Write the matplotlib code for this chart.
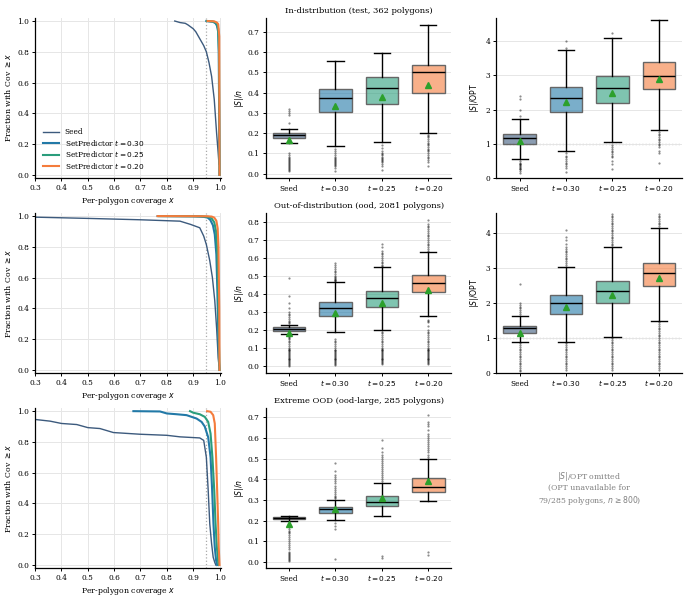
import matplotlib
matplotlib.use("Agg")
import matplotlib.pyplot as plt

plt.rcParams['font.family'] = ['DejaVu Serif']

# ---------------- data ----------------
CATS = ["Seed", "$t = 0.30$", "$t = 0.25$", "$t = 0.20$"]
LEGEND = ["Seed", "SetPredictor $t = 0.30$", "SetPredictor $t = 0.25$", "SetPredictor $t = 0.20$"]
COLORS = ["#3c5a7d", "#2279a7", "#2a9d7c", "#f47c3c"]
TITLES = ["In-distribution (test, 362 polygons)",
          "Out-of-distribution (ood, 2081 polygons)",
          "Extreme OOD (ood-large, 285 polygons)"]

# survival curves: fraction of polygons with coverage >= x
ID_SEED_X = [0.83, 0.85, 0.87, 0.88, 0.90, 0.91, 0.92, 0.93, 0.94, 0.95, 0.96, 0.97, 0.98, 0.989, 0.995, 0.998]
ID_SEED_Y = [1.0, 0.99, 0.985, 0.975, 0.95, 0.93, 0.90, 0.87, 0.84, 0.80, 0.73, 0.64, 0.49, 0.27, 0.14, 0.07]
ID_T30_X = [0.950, 0.975, 0.985, 0.990, 0.995, 0.997, 0.999, 1.0]
ID_T30_Y = [1.0, 0.995, 0.985, 0.97, 0.93, 0.80, 0.30, 0.0]
ID_T25_X = [0.952, 0.975, 0.985, 0.990, 0.995, 0.998, 1.0]
ID_T25_Y = [1.0, 0.997, 0.99, 0.98, 0.95, 0.80, 0.0]
ID_T20_X = [0.955, 0.980, 0.990, 0.995, 0.999, 1.0]
ID_T20_Y = [1.0, 0.998, 0.99, 0.98, 0.90, 0.0]

OOD_SEED_X = [0.25, 0.30, 0.50, 0.70, 0.85, 0.89, 0.925, 0.94, 0.95, 0.963, 0.973, 0.982, 0.989, 0.995, 0.998]
OOD_SEED_Y = [0.994, 0.993, 0.985, 0.976, 0.967, 0.946, 0.924, 0.87, 0.815, 0.71, 0.60, 0.45, 0.27, 0.08, 0.03]
OOD_T30_X = [0.765, 0.90, 0.94, 0.955, 0.965, 0.975, 0.982, 0.988, 0.992, 0.995, 0.998, 1.0]
OOD_T30_Y = [1.0, 0.998, 0.995, 0.99, 0.975, 0.94, 0.88, 0.75, 0.50, 0.25, 0.05, 0.0]
OOD_T25_X = [0.77, 0.93, 0.96, 0.97, 0.98, 0.987, 0.992, 0.995, 0.998, 1.0]
OOD_T25_Y = [1.0, 0.999, 0.995, 0.985, 0.96, 0.90, 0.75, 0.50, 0.15, 0.0]
OOD_T20_X = [0.765, 0.95, 0.97, 0.98, 0.988, 0.993, 0.996, 0.999, 1.0]
OOD_T20_Y = [1.0, 0.999, 0.997, 0.99, 0.97, 0.92, 0.80, 0.40, 0.0]

OODL_SEED_X = [0.25, 0.30, 0.357, 0.40, 0.458, 0.50, 0.546, 0.597, 0.698, 0.80, 0.85, 0.925, 0.94, 0.95, 0.957, 0.963, 0.97, 0.976, 0.982, 0.986]
OODL_SEED_Y = [0.95, 0.946, 0.935, 0.92, 0.913, 0.893, 0.887, 0.861, 0.85, 0.843, 0.833, 0.826, 0.81, 0.70, 0.485, 0.267, 0.137, 0.05, 0.017, 0.0]
OODL_T30_X = [0.673, 0.774, 0.80, 0.837, 0.875, 0.913, 0.932, 0.944, 0.957, 0.966, 0.972, 0.977, 0.982, 0.987, 0.991]
OODL_T30_Y = [1.0, 0.998, 0.985, 0.98, 0.974, 0.952, 0.93, 0.90, 0.83, 0.70, 0.485, 0.267, 0.115, 0.03, 0.0]
OODL_T25_X = [0.888, 0.90, 0.925, 0.944, 0.957, 0.966, 0.973, 0.98, 0.985, 0.99, 0.995, 0.997]
OODL_T25_Y = [1.0, 0.99, 0.98, 0.963, 0.93, 0.854, 0.70, 0.485, 0.267, 0.115, 0.017, 0.0]
OODL_T20_X = [0.953, 0.966, 0.976, 0.982, 0.987, 0.991, 0.995, 0.997, 1.0]
OODL_T20_Y = [1.0, 0.996, 0.974, 0.92, 0.70, 0.485, 0.267, 0.115, 0.0]

# box statistics (Seed, t=0.30, t=0.25, t=0.20)
ID_SN_Q1 = [0.178, 0.305, 0.345, 0.400]
ID_SN_MED = [0.193, 0.372, 0.425, 0.500]
ID_SN_Q3 = [0.203, 0.418, 0.475, 0.535]
ID_SN_LO = [0.151, 0.138, 0.155, 0.200]
ID_SN_HI = [0.220, 0.557, 0.595, 0.733]
ID_SN_MEAN = [0.165, 0.335, 0.380, 0.437]
ID_SN_FLIERS = [
    [0.32, 0.31, 0.30, 0.29, 0.25, 0.10, 0.09, 0.085, 0.08, 0.075, 0.07, 0.065, 0.06, 0.055, 0.05, 0.045, 0.04, 0.035, 0.03, 0.025, 0.02, 0.015],
    [0.12, 0.11, 0.10, 0.09, 0.085, 0.08, 0.075, 0.07, 0.065, 0.06, 0.055, 0.05, 0.045, 0.04, 0.03, 0.015],
    [0.14, 0.125, 0.11, 0.10, 0.095, 0.09, 0.085, 0.08, 0.075, 0.07, 0.065, 0.06, 0.05, 0.04, 0.02],
    [0.19, 0.185, 0.18, 0.17, 0.16, 0.15, 0.145, 0.14, 0.13, 0.12, 0.115, 0.11, 0.10, 0.09, 0.085, 0.08, 0.07, 0.06, 0.04],
]

ID_SO_Q1 = [0.99, 1.92, 2.20, 2.59]
ID_SO_MED = [1.18, 2.33, 2.62, 2.99]
ID_SO_Q3 = [1.30, 2.66, 2.99, 3.40]
ID_SO_LO = [0.56, 0.79, 1.06, 1.40]
ID_SO_HI = [1.71, 3.75, 4.08, 4.63]
ID_SO_MEAN = [1.09, 2.21, 2.49, 2.89]
ID_SO_FLIERS = [
    [2.4, 2.3, 2.0, 1.8, 0.5, 0.45, 0.42, 0.4, 0.37, 0.35, 0.32, 0.3, 0.27, 0.25, 0.2, 0.15],
    [4.0, 3.8, 0.72, 0.65, 0.6, 0.55, 0.5, 0.45, 0.4, 0.35, 0.3, 0.17],
    [4.25, 0.95, 0.9, 0.85, 0.8, 0.75, 0.7, 0.65, 0.6, 0.5, 0.4, 0.25],
    [1.35, 1.3, 1.25, 1.2, 1.15, 1.1, 1.05, 1.0, 0.95, 0.9, 0.8, 0.72, 0.45],
]

OOD_SN_Q1 = [0.196, 0.277, 0.329, 0.409]
OOD_SN_MED = [0.205, 0.320, 0.379, 0.460]
OOD_SN_Q3 = [0.215, 0.355, 0.417, 0.503]
OOD_SN_LO = [0.178, 0.189, 0.200, 0.277]
OOD_SN_HI = [0.228, 0.465, 0.549, 0.636]
OOD_SN_MEAN = [0.181, 0.293, 0.348, 0.424]
OOD_SN_FLIERS = [
    [0.24, 0.245, 0.25, 0.26, 0.27, 0.28, 0.29, 0.30, 0.32, 0.35, 0.39, 0.49,
     0.17, 0.165, 0.16, 0.155, 0.15, 0.14, 0.13, 0.12, 0.11, 0.10, 0.095, 0.09, 0.085, 0.08, 0.075, 0.07,
     0.065, 0.06, 0.055, 0.05, 0.045, 0.04, 0.035, 0.03, 0.025, 0.02, 0.015, 0.01, 0.005, 0.0],
    [0.47, 0.475, 0.48, 0.485, 0.49, 0.495, 0.50, 0.51, 0.52, 0.53, 0.54, 0.55, 0.56, 0.57,
     0.15, 0.14, 0.13, 0.12, 0.11, 0.10, 0.09, 0.085, 0.08, 0.075, 0.07, 0.065, 0.06, 0.055, 0.05, 0.045,
     0.04, 0.035, 0.03, 0.025, 0.02, 0.015, 0.01, 0.005],
    [0.555, 0.56, 0.57, 0.58, 0.59, 0.60, 0.61, 0.62, 0.63, 0.64, 0.66, 0.68,
     0.19, 0.18, 0.17, 0.16, 0.15, 0.14, 0.13, 0.12, 0.11, 0.10, 0.095, 0.09, 0.085, 0.08, 0.075, 0.07,
     0.065, 0.06, 0.055, 0.05, 0.045, 0.04, 0.035, 0.03, 0.025, 0.02, 0.015, 0.01],
    [0.64, 0.65, 0.66, 0.67, 0.68, 0.69, 0.70, 0.71, 0.72, 0.73, 0.74, 0.75, 0.76, 0.77, 0.78, 0.79, 0.81,
     0.255, 0.25, 0.245, 0.22, 0.20, 0.19, 0.18, 0.17, 0.16, 0.15, 0.14, 0.13, 0.12, 0.11, 0.10, 0.095,
     0.09, 0.085, 0.08, 0.075, 0.07, 0.065, 0.06, 0.055, 0.05, 0.045, 0.04, 0.035, 0.03, 0.025, 0.02, 0.015, 0.01],
]

OOD_SO_Q1 = [1.15, 1.70, 1.99, 2.48]
OOD_SO_MED = [1.28, 1.99, 2.34, 2.85]
OOD_SO_Q3 = [1.34, 2.235, 2.64, 3.16]
OOD_SO_LO = [0.88, 0.90, 1.04, 1.49]
OOD_SO_HI = [1.62, 3.03, 3.61, 4.16]
OOD_SO_MEAN = [1.14, 1.90, 2.245, 2.73]
OOD_SO_FLIERS = [
    [1.7, 1.75, 1.8, 1.85, 1.9, 1.95, 2.0, 2.55,
     0.85, 0.8, 0.75, 0.7, 0.65, 0.6, 0.55, 0.5, 0.45, 0.4, 0.35, 0.3, 0.25, 0.2, 0.15, 0.1, 0.05],
    [3.1, 3.15, 3.2, 3.25, 3.3, 3.35, 3.4, 3.45, 3.5, 3.55, 3.6, 3.7, 3.8, 3.9, 4.1,
     0.85, 0.8, 0.75, 0.7, 0.65, 0.6, 0.55, 0.5, 0.45, 0.4, 0.35, 0.3, 0.25, 0.2, 0.15, 0.1],
    [3.65, 3.7, 3.75, 3.8, 3.85, 3.9, 3.95, 4.0, 4.05, 4.1, 4.15, 4.2, 4.25, 4.3, 4.35, 4.4, 4.45, 4.5, 4.55,
     1.0, 0.95, 0.9, 0.85, 0.8, 0.75, 0.7, 0.65, 0.6, 0.55, 0.5, 0.45, 0.4, 0.35, 0.3, 0.25, 0.2, 0.15, 0.1],
    [4.2, 4.25, 4.3, 4.35, 4.4, 4.45, 4.5, 4.55,
     1.45, 1.4, 1.35, 1.3, 1.25, 1.2, 1.15, 1.1, 1.05, 1.0, 0.95, 0.9, 0.85, 0.8, 0.75, 0.7, 0.65, 0.6,
     0.55, 0.5, 0.45, 0.4, 0.35, 0.3, 0.25, 0.2, 0.15, 0.1],
]

OODL_SN_Q1 = [0.206, 0.237, 0.272, 0.339]
OODL_SN_MED = [0.211, 0.254, 0.288, 0.365]
OODL_SN_Q3 = [0.216, 0.265, 0.317, 0.406]
OODL_SN_LO = [0.198, 0.203, 0.221, 0.293]
OODL_SN_HI = [0.221, 0.301, 0.381, 0.500]
OODL_SN_MEAN = [0.183, 0.255, 0.309, 0.393]
OODL_SN_FLIERS = [
    [0.185, 0.17, 0.16, 0.15, 0.145, 0.14, 0.13, 0.12, 0.11, 0.10, 0.09, 0.08, 0.07, 0.06, 0.05, 0.045,
     0.04, 0.035, 0.03, 0.025, 0.02, 0.015, 0.01, 0.005],
    [0.31, 0.315, 0.32, 0.33, 0.34, 0.35, 0.36, 0.37, 0.38, 0.39, 0.40, 0.41, 0.42, 0.44, 0.48, 0.19, 0.175, 0.16, 0.013],
    [0.39, 0.40, 0.41, 0.42, 0.43, 0.44, 0.45, 0.46, 0.47, 0.48, 0.49, 0.50, 0.51, 0.52, 0.53, 0.55, 0.59, 0.03, 0.02],
    [0.51, 0.52, 0.53, 0.54, 0.55, 0.56, 0.57, 0.58, 0.59, 0.60, 0.61, 0.62, 0.64, 0.66, 0.67, 0.68, 0.71, 0.05, 0.035],
]

SO_YLIM_TOP = [4.68, 4.575]
OMITTED_TEXT = "$|S|$/OPT omitted\n(OPT unavailable for\n79/285 polygons, $n \\geq 800$)"
COV_THRESHOLD = 0.95

# ---------------- plotting ----------------
FS_TICK = 5.3
FS_LABEL = 5.6
FS_TITLE = 6.0

fig, axes = plt.subplots(3, 3, figsize=(6.89, 5.98), dpi=100)
fig.subplots_adjust(left=0.051, right=0.99, bottom=0.050, top=0.970, wspace=0.242, hspace=0.219)

curves = [
    [(ID_SEED_X, ID_SEED_Y), (ID_T30_X, ID_T30_Y), (ID_T25_X, ID_T25_Y), (ID_T20_X, ID_T20_Y)],
    [(OOD_SEED_X, OOD_SEED_Y), (OOD_T30_X, OOD_T30_Y), (OOD_T25_X, OOD_T25_Y), (OOD_T20_X, OOD_T20_Y)],
    [(OODL_SEED_X, OODL_SEED_Y), (OODL_T30_X, OODL_T30_Y), (OODL_T25_X, OODL_T25_Y), (OODL_T20_X, OODL_T20_Y)],
]
sn_stats = [
    (ID_SN_Q1, ID_SN_MED, ID_SN_Q3, ID_SN_LO, ID_SN_HI, ID_SN_MEAN, ID_SN_FLIERS),
    (OOD_SN_Q1, OOD_SN_MED, OOD_SN_Q3, OOD_SN_LO, OOD_SN_HI, OOD_SN_MEAN, OOD_SN_FLIERS),
    (OODL_SN_Q1, OODL_SN_MED, OODL_SN_Q3, OODL_SN_LO, OODL_SN_HI, OODL_SN_MEAN, OODL_SN_FLIERS),
]
so_stats = [
    (ID_SO_Q1, ID_SO_MED, ID_SO_Q3, ID_SO_LO, ID_SO_HI, ID_SO_MEAN, ID_SO_FLIERS),
    (OOD_SO_Q1, OOD_SO_MED, OOD_SO_Q3, OOD_SO_LO, OOD_SO_HI, OOD_SO_MEAN, OOD_SO_FLIERS),
]


def style_ax(ax, xgrid):
    for s in ["top", "right"]:
        ax.spines[s].set_visible(False)
    for s in ["left", "bottom"]:
        ax.spines[s].set_linewidth(0.9)
    ax.tick_params(labelsize=FS_TICK, length=2.5, width=0.7, pad=2)
    ax.set_axisbelow(True)
    ax.grid(axis="y", color="#e6e6e6", lw=0.7)
    if xgrid:
        ax.grid(axis="x", color="#e6e6e6", lw=0.7)


def draw_box(ax, stats):
    q1, med, q3, lo, hi, mean, fliers = stats
    bs = []
    for i in range(len(CATS)):
        bs.append(dict(q1=q1[i], med=med[i], q3=q3[i], whislo=lo[i], whishi=hi[i],
                       mean=mean[i], fliers=fliers[i], label=CATS[i]))
    res = ax.bxp(bs, positions=range(len(CATS)), widths=0.7, patch_artist=True, showmeans=True,
                 boxprops=dict(edgecolor="#666666", linewidth=1.0),
                 medianprops=dict(color="black", linewidth=1.0),
                 whiskerprops=dict(color="black", linewidth=1.0),
                 capprops=dict(color="black", linewidth=1.0),
                 meanprops=dict(marker="^", markerfacecolor="#2ca02c", markeredgecolor="#2ca02c", markersize=5),
                 flierprops=dict(marker="o", markersize=1.6, markerfacecolor="black",
                                 markeredgecolor="none", alpha=0.45))
    for patch, c in zip(res["boxes"], COLORS):
        patch.set_facecolor(matplotlib.colors.to_rgba(c, 0.6))
    ax.set_xlim(-0.5, len(CATS) - 0.5)
    ax.set_xticks(range(len(CATS)))
    ax.set_xticklabels(CATS)
    ax.tick_params(axis="x", pad=7.0)
    for lbl in ax.get_xticklabels():
        lbl.set_verticalalignment("baseline")


for r in range(3):
    ax = axes[r, 0]
    style_ax(ax, True)
    for (xs, ys), c, lab in zip(curves[r], COLORS, LEGEND):
        lw = 1.0 if lab == "Seed" else 1.5
        ax.plot(xs, ys, color=c, lw=lw, label=lab)
    ax.axvline(COV_THRESHOLD, color="#aaaaaa", ls=":", lw=0.9, zorder=0)
    ax.set_xlim(0.3, 1.005)
    ax.set_ylim(-0.02, 1.02)
    ax.set_xticks([0.3, 0.4, 0.5, 0.6, 0.7, 0.8, 0.9, 1.0])
    ax.set_yticks([0.0, 0.2, 0.4, 0.6, 0.8, 1.0])
    ax.set_xlabel("Per-polygon coverage $x$", fontsize=FS_LABEL, labelpad=2)
    ax.set_ylabel("Fraction with Cov $\\geq x$", fontsize=FS_LABEL, labelpad=3)
    if r == 0:
        ax.legend(loc="lower left", frameon=False, fontsize=FS_TICK, handlelength=2.2,
                  borderaxespad=0.6, labelspacing=0.2, handletextpad=0.8)

    ax = axes[r, 1]
    style_ax(ax, False)
    draw_box(ax, sn_stats[r])
    ax.set_ylabel("$|S|/n$", fontsize=FS_LABEL, labelpad=1.5)
    ax.set_title(TITLES[r], fontsize=FS_TITLE, pad=3.5)

    ax = axes[r, 2]
    if r < 2:
        style_ax(ax, False)
        draw_box(ax, so_stats[r])
        ax.axhline(1.0, color="#999999", ls=":", lw=0.9, zorder=0)
        ax.set_ylim(0, SO_YLIM_TOP[r])
        ax.set_ylabel("$|S|/\\mathrm{OPT}$", fontsize=FS_LABEL, labelpad=3)
    else:
        ax.axis("off")
        ax.text(0.5, 0.5, OMITTED_TEXT, ha="center", va="center", fontsize=5.6,
                color="#808080", transform=ax.transAxes)

fig.savefig("out.png", dpi=100)
